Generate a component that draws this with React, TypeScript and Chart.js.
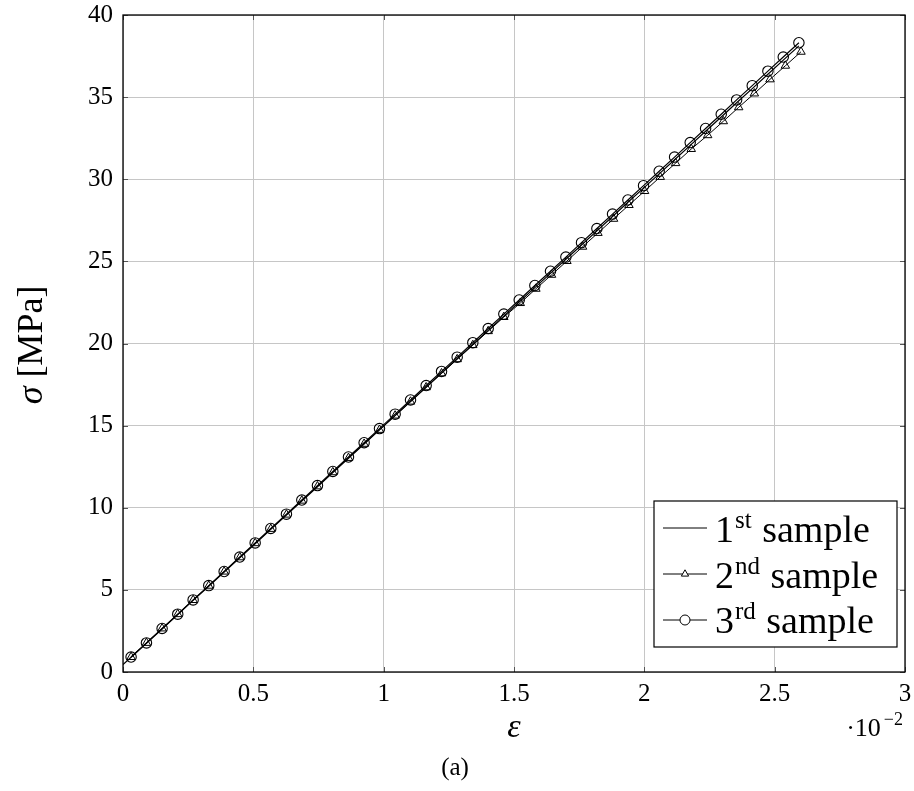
import React, { useEffect, useRef } from 'react';
import { Chart, registerables } from 'chart.js';

Chart.register(...registerables);

// ---- data (strain in units of 10^-2, stress in MPa) ----
const X_TICKS = [0, 0.5, 1, 1.5, 2, 2.5, 3];
const Y_TICKS = [0, 5, 10, 15, 20, 25, 30, 35, 40];

const SAMPLE1_STRAIN = [
  0, 0.031, 0.090, 0.150, 0.210, 0.269, 0.329, 0.388, 0.448, 0.507, 0.567,
  0.627, 0.686, 0.746, 0.805, 0.865, 0.925, 0.984, 1.044, 1.103, 1.163,
  1.222, 1.282, 1.342, 1.401, 1.461, 1.520, 1.580, 1.640, 1.699, 1.759,
  1.818, 1.878, 1.937, 1.997, 2.057, 2.116, 2.176, 2.235, 2.295, 2.354,
  2.414, 2.474, 2.533, 2.593,
];

const SAMPLE1_STRESS = [
  0.45, 0.90, 1.75, 2.62, 3.49, 4.36, 5.22, 6.08, 6.95, 7.81, 8.68,
  9.55, 10.41, 11.28, 12.14, 13.01, 13.88, 14.74, 15.61, 16.47, 17.34,
  18.20, 19.07, 19.94, 20.80, 21.67, 22.53, 23.40, 24.27, 25.13, 26.00,
  26.86, 27.73, 28.60, 29.46, 30.33, 31.19, 32.06, 32.92, 33.79, 34.66,
  35.52, 36.39, 37.25, 38.12,
];

const SAMPLE2_STRAIN = [
  0.031, 0.090, 0.150, 0.210, 0.269, 0.329, 0.388, 0.448, 0.507, 0.567,
  0.627, 0.686, 0.746, 0.805, 0.865, 0.925, 0.984, 1.044, 1.103, 1.163,
  1.222, 1.282, 1.342, 1.401, 1.461, 1.524, 1.584, 1.644, 1.703, 1.763,
  1.822, 1.882, 1.941, 2.001, 2.061, 2.120, 2.180, 2.243, 2.303, 2.362,
  2.422, 2.482, 2.541, 2.601,
];

const SAMPLE2_STRESS = [
  0.91, 1.77, 2.65, 3.52, 4.38, 5.25, 6.11, 6.98, 7.84, 8.71,
  9.58, 10.43, 11.30, 12.16, 13.03, 13.89, 14.74, 15.61, 16.46, 17.33,
  18.18, 19.04, 19.90, 20.75, 21.61, 22.46, 23.33, 24.18, 25.02, 25.89,
  26.73, 27.59, 28.43, 29.28, 30.14, 30.98, 31.84, 32.68, 33.53, 34.38,
  35.22, 36.08, 36.91, 37.76,
];

const SAMPLE3_STRAIN = [
  0.031, 0.090, 0.150, 0.210, 0.269, 0.329, 0.388, 0.448, 0.507, 0.567,
  0.627, 0.686, 0.746, 0.805, 0.865, 0.925, 0.984, 1.044, 1.103, 1.163,
  1.222, 1.282, 1.342, 1.401, 1.461, 1.520, 1.580, 1.640, 1.699, 1.759,
  1.818, 1.878, 1.937, 1.997, 2.057, 2.116, 2.176, 2.235, 2.295, 2.354,
  2.414, 2.474, 2.533, 2.593,
];

const SAMPLE3_STRESS = [
  0.91, 1.77, 2.65, 3.52, 4.39, 5.26, 6.12, 7.00, 7.86, 8.74,
  9.61, 10.47, 11.35, 12.21, 13.09, 13.96, 14.82, 15.70, 16.56, 17.44,
  18.30, 19.17, 20.05, 20.91, 21.79, 22.65, 23.53, 24.40, 25.26, 26.14,
  27.00, 27.88, 28.74, 29.61, 30.49, 31.35, 32.23, 33.09, 33.96, 34.83,
  35.70, 36.58, 37.44, 38.31,
];

const LEGEND_BASE = ['1', '2', '3'];
const LEGEND_SUP = ['st', 'nd', 'rd'];
const LEGEND_REST = ' sample';
const SERIES_LABELS = ['1st sample', '2nd sample', '3rd sample'];

const FONT = '"Liberation Serif", "DejaVu Serif", serif';

const W = 914;
const H = 791;

const zeroPad = (s: any) => {
  s.paddingLeft = 0;
  s.paddingRight = 0;
  s.paddingTop = 0;
  s.paddingBottom = 0;
};

const decor = {
  id: 'decor',
  afterDatasetsDraw(chart: any) {
    const ctx = chart.ctx as CanvasRenderingContext2D;
    const ca = chart.chartArea;
    const xs = chart.scales.x;
    const ys = chart.scales.y;
    ctx.save();

    // inner tick marks
    ctx.strokeStyle = '#555';
    ctx.lineWidth = 1;
    ctx.beginPath();
    X_TICKS.forEach((v) => {
      const px = Math.round(xs.getPixelForValue(v)) + 0.5;
      ctx.moveTo(px, ca.bottom);
      ctx.lineTo(px, ca.bottom - 5);
      ctx.moveTo(px, ca.top);
      ctx.lineTo(px, ca.top + 5);
    });
    Y_TICKS.forEach((v) => {
      const py = Math.round(ys.getPixelForValue(v)) + 0.5;
      ctx.moveTo(ca.left, py);
      ctx.lineTo(ca.left + 5, py);
      ctx.moveTo(ca.right, py);
      ctx.lineTo(ca.right - 5, py);
    });
    ctx.stroke();

    // plot frame
    ctx.strokeStyle = '#000';
    ctx.lineWidth = 1.3;
    ctx.strokeRect(ca.left, ca.top, ca.right - ca.left, ca.bottom - ca.top);

    // legend
    const bw = 243;
    const bh = 146;
    const bx = ca.right - 8 - bw;
    const by = ca.bottom - 25 - bh;
    ctx.fillStyle = '#fff';
    ctx.fillRect(bx, by, bw, bh);
    ctx.strokeStyle = '#000';
    ctx.lineWidth = 1.2;
    ctx.strokeRect(bx, by, bw, bh);

    for (let i = 0; i < 3; i++) {
      const ly = by + 27 + 46 * i;
      const base = by + 41 + 45.5 * i;
      ctx.strokeStyle = '#000';
      ctx.lineWidth = 1;
      ctx.beginPath();
      ctx.moveTo(bx + 9, ly);
      ctx.lineTo(bx + 53, ly);
      ctx.stroke();
      const mx = bx + 31;
      if (i === 1) {
        const r = 4.2;
        ctx.fillStyle = '#fff';
        ctx.beginPath();
        ctx.moveTo(mx, ly - r);
        ctx.lineTo(mx + r * 0.866, ly + r * 0.5);
        ctx.lineTo(mx - r * 0.866, ly + r * 0.5);
        ctx.closePath();
        ctx.fill();
        ctx.stroke();
      } else if (i === 2) {
        ctx.fillStyle = '#fff';
        ctx.beginPath();
        ctx.arc(mx, ly, 5, 0, Math.PI * 2);
        ctx.fill();
        ctx.stroke();
      }
      ctx.fillStyle = '#000';
      ctx.textBaseline = 'alphabetic';
      ctx.textAlign = 'left';
      let tx = bx + 61;
      ctx.font = `38px ${FONT}`;
      ctx.fillText(LEGEND_BASE[i], tx, base);
      tx += ctx.measureText(LEGEND_BASE[i]).width;
      ctx.font = `25px ${FONT}`;
      ctx.fillText(LEGEND_SUP[i], tx + 1, base - 14);
      tx += ctx.measureText(LEGEND_SUP[i]).width + 2;
      ctx.font = `38px ${FONT}`;
      ctx.fillText(LEGEND_REST, tx, base);
    }
    ctx.restore();
  },
  afterDraw(chart: any) {
    const ctx = chart.ctx as CanvasRenderingContext2D;
    const ca = chart.chartArea;
    ctx.save();
    ctx.fillStyle = '#000';
    ctx.textBaseline = 'alphabetic';

    // x title
    ctx.textAlign = 'center';
    ctx.font = `italic 34px ${FONT}`;
    ctx.fillText('ε', (ca.left + ca.right) / 2, 737);

    // y title
    ctx.save();
    ctx.translate(42, 345);
    ctx.rotate(-Math.PI / 2);
    const sig = 'σ';
    const rest = ' [MPa]';
    ctx.font = `italic 36px ${FONT}`;
    const w1 = ctx.measureText(sig).width;
    ctx.font = `36px ${FONT}`;
    const w2 = ctx.measureText(rest).width;
    ctx.textAlign = 'left';
    ctx.font = `italic 36px ${FONT}`;
    ctx.fillText(sig, -(w1 + w2) / 2, 0);
    ctx.font = `36px ${FONT}`;
    ctx.fillText(rest, -(w1 + w2) / 2 + w1, 0);
    ctx.restore();

    // multiplier
    ctx.textAlign = 'left';
    ctx.font = `26px ${FONT}`;
    const m1 = '·10';
    const mw1 = ctx.measureText(m1).width;
    ctx.font = `18px ${FONT}`;
    const m2 = '−2';
    const mw2 = ctx.measureText(m2).width;
    const mx0 = ca.right - 2 - mw1 - mw2 - 3;
    ctx.font = `26px ${FONT}`;
    ctx.fillText(m1, mx0, 736);
    ctx.font = `18px ${FONT}`;
    ctx.fillText(m2, mx0 + mw1 + 3, 725);

    // caption
    ctx.textAlign = 'center';
    ctx.font = `25px ${FONT}`;
    ctx.fillText('(a)', 455, 775);
    ctx.restore();
  },
};

export default function App() {
  const ref = useRef<HTMLCanvasElement | null>(null);

  useEffect(() => {
    if (!ref.current) return;
    const mk = (xs: number[], ys: number[]) => xs.map((x, i) => ({ x, y: ys[i] }));
    const chart = new Chart(ref.current, {
      type: 'scatter',
      data: {
        datasets: [
          {
            label: SERIES_LABELS[0],
            data: mk(SAMPLE1_STRAIN, SAMPLE1_STRESS),
            showLine: true,
            borderColor: '#000',
            borderWidth: 1.2,
            pointRadius: 0,
            pointHoverRadius: 0,
          },
          {
            label: SERIES_LABELS[1],
            data: mk(SAMPLE2_STRAIN, SAMPLE2_STRESS),
            showLine: true,
            borderColor: '#000',
            borderWidth: 1,
            pointStyle: 'triangle',
            pointRadius: 4.9,
            pointBorderColor: '#000',
            pointBackgroundColor: 'rgba(0,0,0,0)',
            pointBorderWidth: 1,
          },
          {
            label: SERIES_LABELS[2],
            data: mk(SAMPLE3_STRAIN, SAMPLE3_STRESS),
            showLine: true,
            borderColor: '#000',
            borderWidth: 1.2,
            pointStyle: 'circle',
            pointRadius: 5.2,
            pointBorderColor: '#000',
            pointBackgroundColor: 'rgba(0,0,0,0)',
            pointBorderWidth: 1.1,
          },
        ],
      },
      options: {
        animation: false,
        responsive: false,
        devicePixelRatio: 1,
        layout: {
          padding: { left: 0, right: 9, top: 15, bottom: 0 },
          autoPadding: false,
        } as any,
        plugins: {
          legend: { display: false },
          tooltip: { enabled: false },
        },
        scales: {
          x: {
            type: 'linear',
            min: 0,
            max: 3,
            afterFit: (s: any) => {
              s.height = 119;
              zeroPad(s);
            },
            afterBuildTicks: (s: any) => {
              s.ticks = X_TICKS.map((v) => ({ value: v }));
            },
            ticks: {
              font: { family: FONT, size: 25 },
              color: '#000',
              padding: 7,
              maxRotation: 0,
              callback: (v: any) => String(v),
            },
            grid: { color: '#c6c6c6', lineWidth: 1, drawTicks: false },
            border: { display: false },
          },
          y: {
            type: 'linear',
            min: 0,
            max: 40,
            afterFit: (s: any) => {
              s.width = 123;
              zeroPad(s);
            },
            afterBuildTicks: (s: any) => {
              s.ticks = Y_TICKS.map((v) => ({ value: v }));
            },
            ticks: {
              font: { family: FONT, size: 25 },
              color: '#000',
              padding: 10,
              callback: (v: any) => String(v),
            },
            grid: { color: '#c6c6c6', lineWidth: 1, drawTicks: false },
            border: { display: false },
          },
        },
      },
      plugins: [decor],
    });
    return () => chart.destroy();
  }, []);

  return (
    <div style={{ position: 'absolute', left: 0, top: 0, width: W, height: H, overflow: 'hidden' }}>
      <canvas ref={ref} width={W} height={H} style={{ display: 'block', width: W, height: H }} />
    </div>
  );
}
